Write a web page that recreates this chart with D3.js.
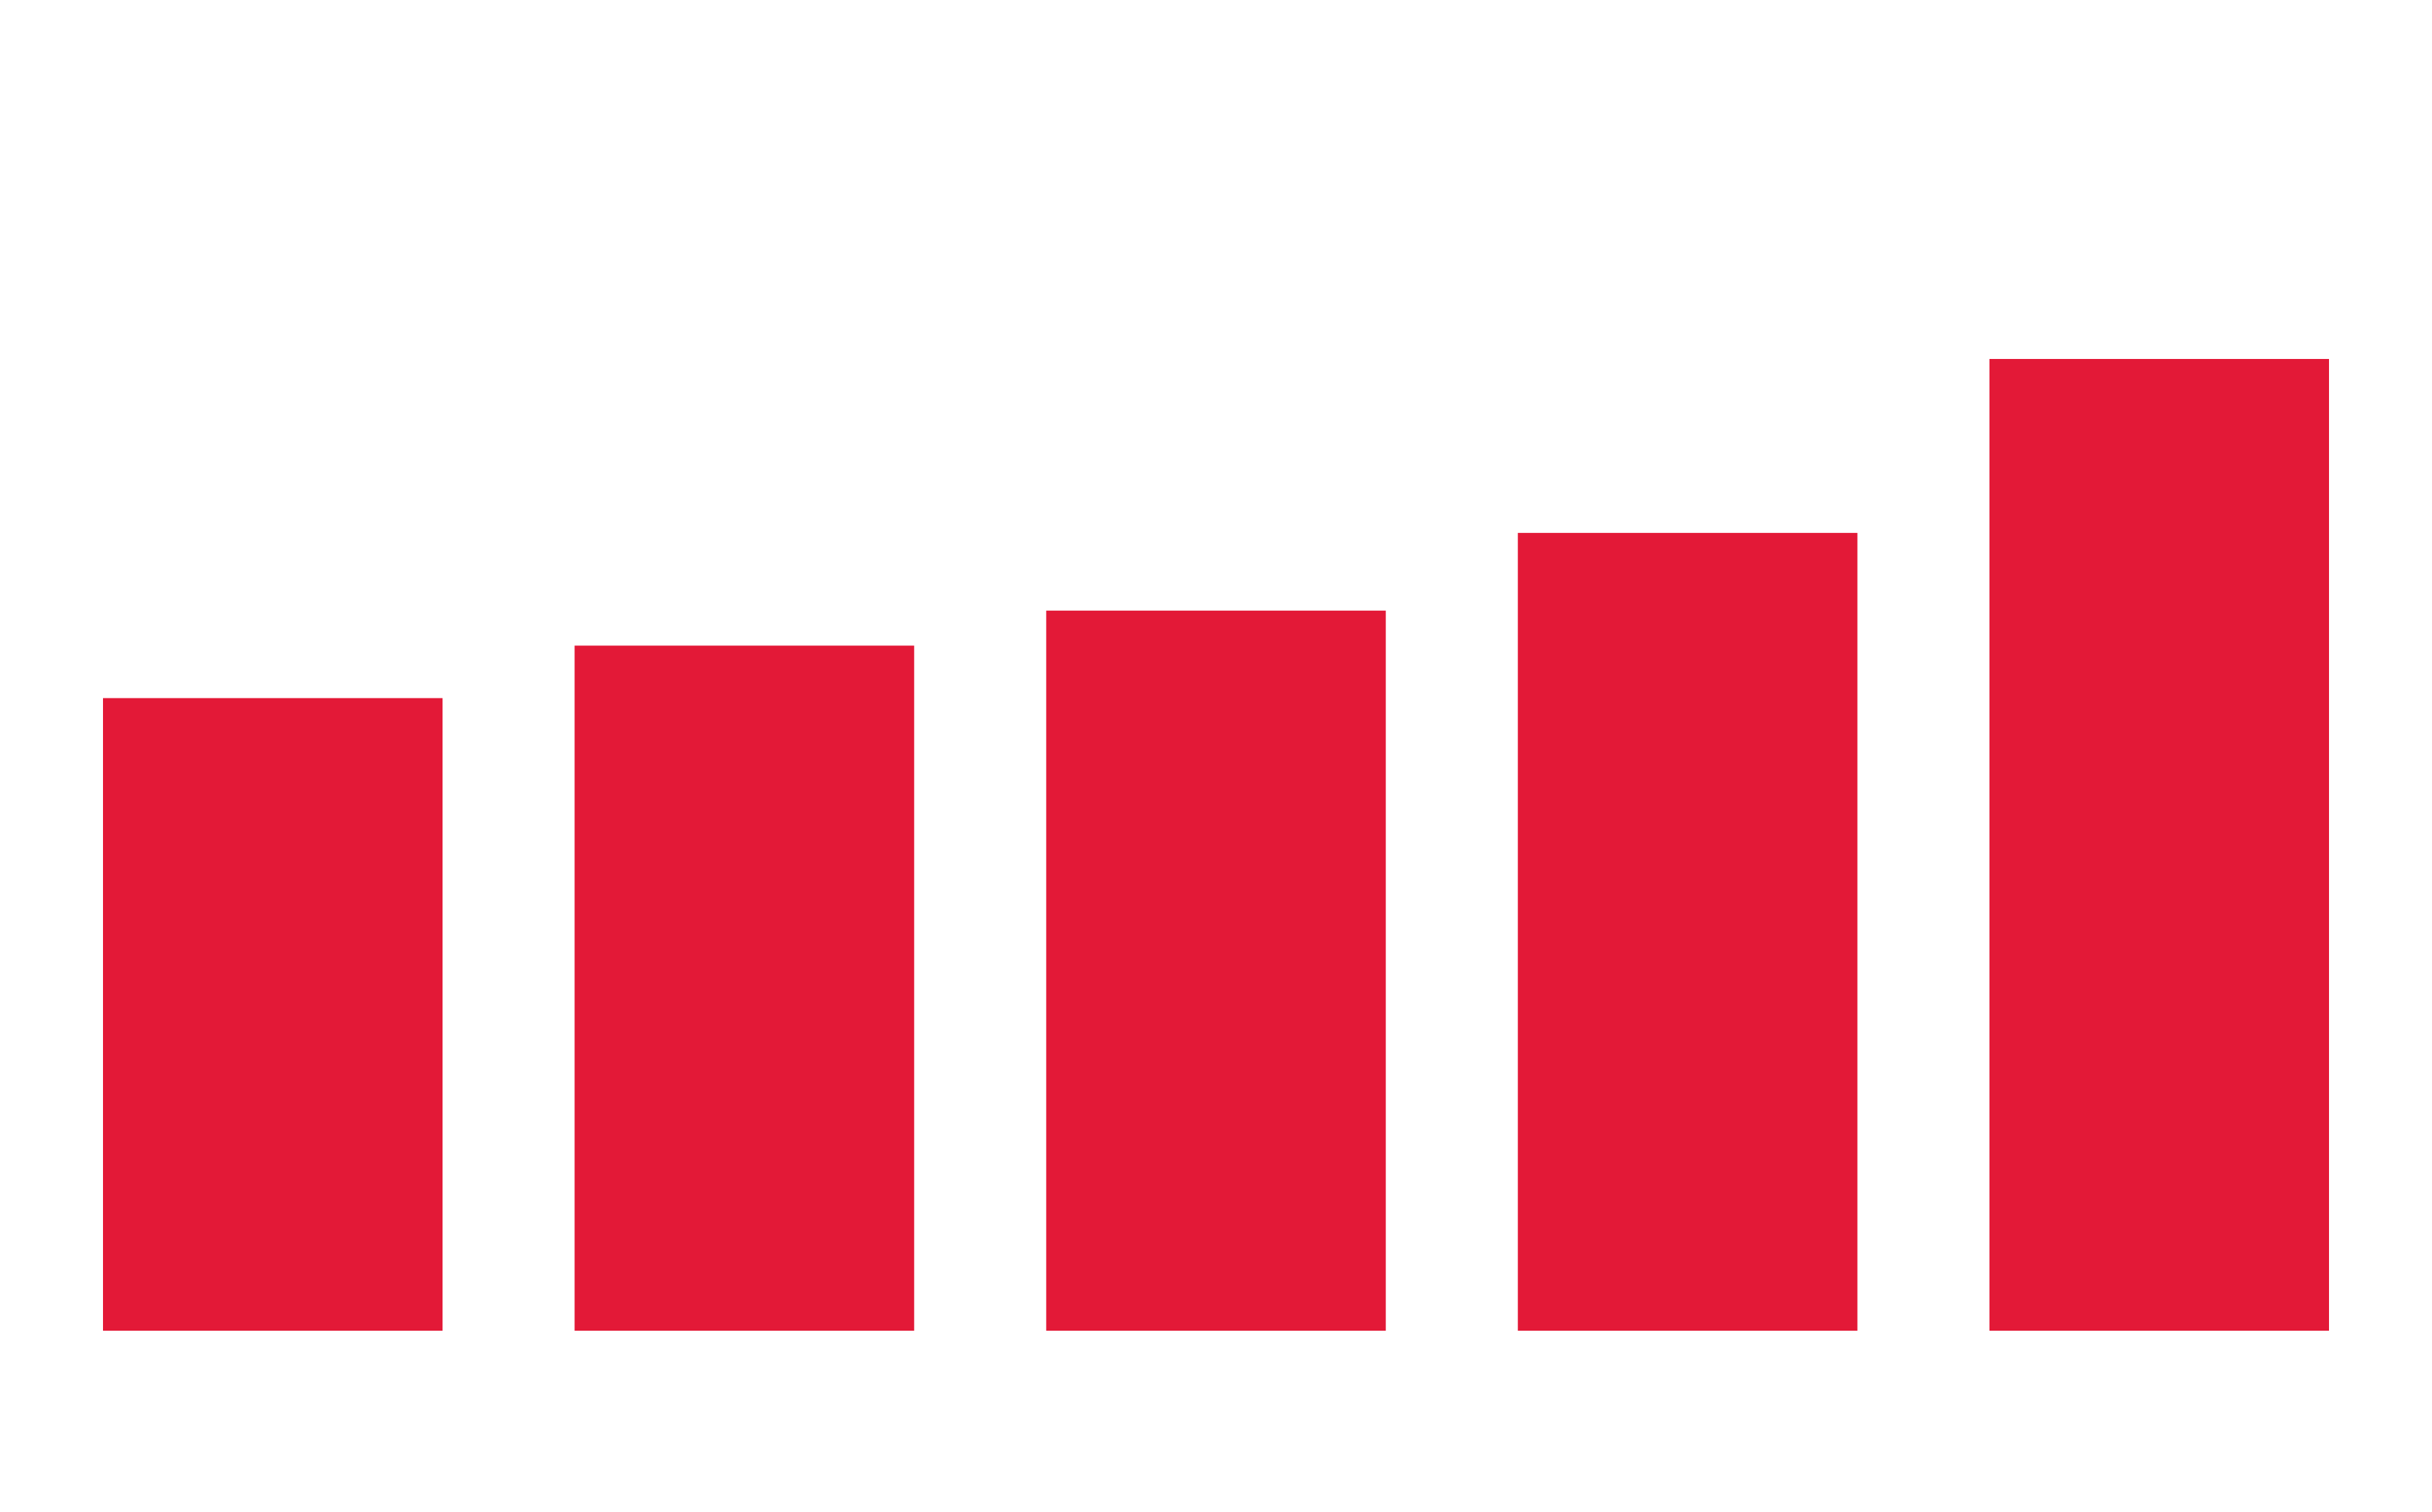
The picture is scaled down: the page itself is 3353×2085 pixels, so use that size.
<!DOCTYPE html>
<html>
<head>
<meta charset="utf-8">
<script src="https://cdn.jsdelivr.net/npm/d3@7"></script>
<style>
  html, body { margin: 0; padding: 0; background: #ffffff; }
  svg { display: block; }
</style>
</head>
<body>
<script>
const categories = ["A", "B", "C", "D", "E"];
const values = [65.1, 70.5, 74.1, 82.1, 100];

const W = 3353, H = 2085;
const margin = { top: 495, right: 142, bottom: 250, left: 142 };

const svg = d3.select("body").append("svg")
  .attr("width", W).attr("height", H);

const x = d3.scaleBand()
  .domain(categories)
  .range([margin.left, W - margin.right])
  .paddingInner(0.28)
  .paddingOuter(0);

const y = d3.scaleLinear()
  .domain([0, d3.max(values)])
  .range([H - margin.bottom, margin.top]);

svg.append("g")
  .selectAll("rect")
  .data(categories.map((c, i) => ({ c, v: values[i] })))
  .join("rect")
  .attr("x", d => x(d.c))
  .attr("y", d => y(d.v))
  .attr("width", x.bandwidth())
  .attr("height", d => y(0) - y(d.v))
  .attr("fill", "#e31937");
</script>
</body>
</html>
